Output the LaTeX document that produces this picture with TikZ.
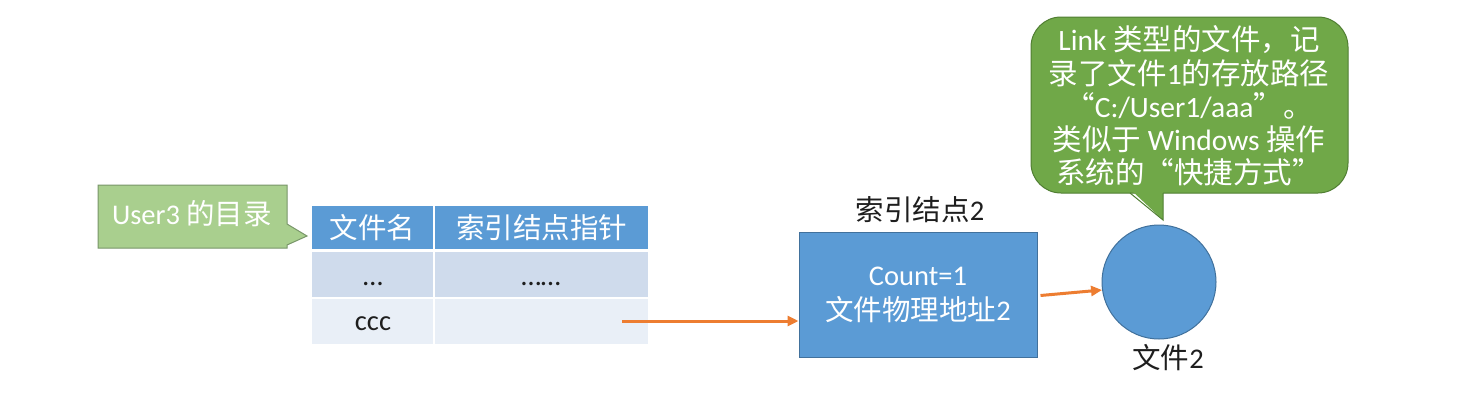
\documentclass[tikz,border=0pt]{standalone}
\usepackage{fontspec}
\setmainfont{Carlito}
\newfontfamily\cjk{Noto Sans CJK SC}
\newcommand\zh[1]{{\cjk #1}}
\usetikzlibrary{arrows.meta}
\definecolor{hdrblue}{RGB}{91,155,213}
\definecolor{rowa}{RGB}{207,219,236}
\definecolor{rowb}{RGB}{233,239,247}
\definecolor{boxborder}{RGB}{65,113,156}
\definecolor{lgreen}{RGB}{169,207,142}
\definecolor{lgreenborder}{RGB}{120,150,105}
\definecolor{dgreen}{RGB}{112,168,72}
\definecolor{dgreenborder}{RGB}{80,126,50}
\definecolor{arrorange}{RGB}{237,125,49}
\definecolor{ink}{RGB}{30,30,30}
\begin{document}
\begin{tikzpicture}[x=1pt,y=-1pt,
  every node/.style={font=\fontsize{28.5}{33}\selectfont},
  cellbox/.style={inner sep=0pt, anchor=north west, draw=none},
  hdrcell/.style={cellbox, fill=hdrblue, text=white},
  txtw/.style={text=white, inner sep=0pt},
  txtk/.style={text=ink, inner sep=0pt},
  arr/.style={draw=arrorange, line width=3pt, -{Triangle[length=11pt,width=10pt]}},
  bluebox/.style={fill=hdrblue, draw=boxborder, line width=1pt},
]
\path[use as bounding box, fill=white] (0,0) rectangle (1459,402);

% callout "User3 的目录"
\draw[fill=lgreen, draw=lgreenborder, line width=1pt]
  (98,185) -- (287,185) -- (287,224) -- (307,236) -- (287,245) -- (287,248) -- (98,248) -- cycle;
\node[txtw] (lab1) at (192,214) {User3 \zh{的目录}};

% table
\node[hdrcell, minimum width=121, minimum height=43] (h1) at (312,206) {\zh{文件名}};
\node[hdrcell, minimum width=213, minimum height=43] (h2) at (435,206) {\zh{索引结点指针}};
\node[cellbox, fill=rowa, minimum width=121, minimum height=45] (r1a) at (312,252) {};
\node[cellbox, fill=rowa, minimum width=213, minimum height=45] (r1b) at (435,252) {};
\node[cellbox, fill=rowb, minimum width=121, minimum height=45] (r2a) at (312,299) {};
\node[cellbox, fill=rowb, minimum width=213, minimum height=45] (r2b) at (435,299) {};
\node[txtk, anchor=base] (d1) at (373,285) {…};
\node[txtk, anchor=base] (d2) at (541,285) {……};
\node[txtk, anchor=base] (c1) at (373,330) {ccc};

% index node 2
\node[bluebox, minimum width=238, minimum height=125, inner sep=0pt, text=white, align=center,
      font=\fontsize{28.5}{35}\selectfont] (inode) at (918,294.5) {Count=1\\\zh{文件物理地址}2};
\node[txtk] (ilab) at (920,210) {\zh{索引结点}2};

% file 2 circle
\node[bluebox, circle, minimum size=114, inner sep=0pt] (circ) at (1159,282) {};
\node[txtk] (clab) at (1168,358) {\zh{文件}2};

% arrows
\coordinate (s1) at (622,321);
\draw[arr] (s1) -- (s1 -| inode.west);
\draw[arr] ([xshift=3pt,yshift=-1pt]inode.east) -- (circ.188);

% speech bubble
\draw[fill=dgreen, draw=dgreenborder, line width=1pt, rounded corners=30pt]
  (1031,17) rectangle (1348,193);
\fill[dgreen] (1131,190) -- (1163,190) -- (1163,220) -- cycle;
\draw[dgreenborder, line width=1pt] (1130,193) -- (1163,220) -- (1163,193);
\node[txtw, align=center, font=\fontsize{29.5}{33.2}\selectfont] (bub) at (1189,106)
  {Link \zh{类型的文件，记}\\
   \zh{录了文件}1\zh{的存放路径}\\
   \zh{“}C:/User1/aaa\zh{”。}\\
   \zh{类似于} Windows \zh{操作}\\
   \zh{系统的“快捷方式”}};
\end{tikzpicture}
\end{document}
